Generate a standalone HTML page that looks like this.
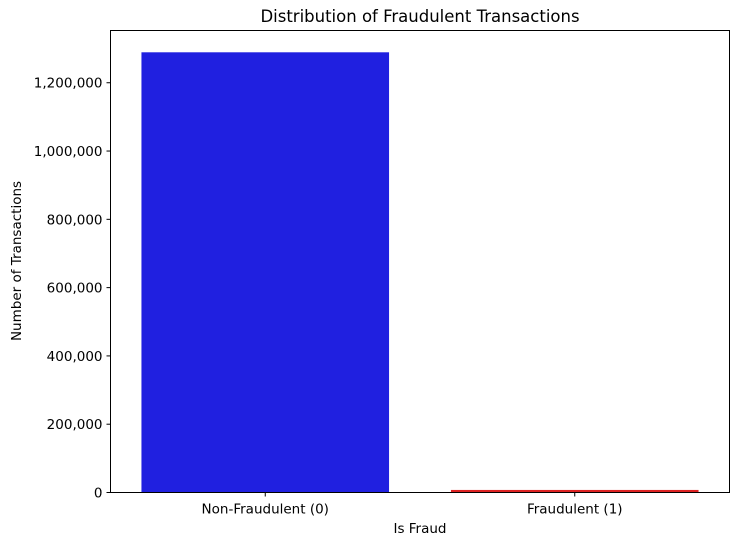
<!DOCTYPE html>
<html><head><meta charset="utf-8"><style>
body{margin:0;background:#fff;font-family:"DejaVu Sans","Liberation Sans",sans-serif}
svg text{font-family:"DejaVu Sans","Liberation Sans",sans-serif}
</style></head><body>
<svg width="740" height="545" xmlns="http://www.w3.org/2000/svg" id="chart">
<rect width="740" height="545" fill="#fff"/>
<text x="420" y="22" text-anchor="middle" font-size="16.5">Distribution of Fraudulent Transactions</text>
<text x="420" y="533" text-anchor="middle" font-size="13.5">Is Fraud</text>
<text transform="translate(21,261) rotate(-90)" text-anchor="middle" font-size="13.5">Number of Transactions</text>
<g id="marks"></g>
<rect x="110.5" y="30.5" width="619" height="462" fill="none" stroke="#000" stroke-width="1"/>
</svg>
<script>
const categories = ["Non-Fraudulent (0)", "Fraudulent (1)"];
const counts = [1289169, 7506];
const colors = ["#2020e0", "#dd2222"];
const yTicks = [0, 200000, 400000, 600000, 800000, 1000000, 1200000];
const yTickLabels = ["0", "200,000", "400,000", "600,000", "800,000", "1,000,000", "1,200,000"];

const L=110.5,R=729.5,T=30.5,B=492.5,yMax=1353000;
const NS="http://www.w3.org/2000/svg";
const g=document.getElementById('marks');
const y=v=>B-(v/yMax)*(B-T);
const band=(R-L)/categories.length;
const xc=i=>L+band*(i+0.5);
function mk(t,a){const e=document.createElementNS(NS,t);for(const k in a)e.setAttribute(k,a[k]);g.appendChild(e);return e;}
categories.forEach((c,i)=>{
  const w=band*0.8;
  const r=mk('rect',{x:xc(i)-w/2,y:y(counts[i]),width:w,height:B-y(counts[i]),fill:colors[i]});
  
  
  const tk=mk('line',{x1:xc(i),x2:xc(i),y1:B,y2:B+4,stroke:'#000'});
  
  
  const t=mk('text',{x:xc(i),y:B+21,'text-anchor':'middle','font-size':13.5});
  t.textContent=c;
  
  
});
yTicks.forEach((v,i)=>{
  const tk=mk('line',{x1:L-4,x2:L,y1:y(v),y2:y(v),stroke:'#000'});
  
  
  const t=mk('text',{x:L-8,y:y(v)+5,'text-anchor':'end','font-size':13.5});
  t.textContent=yTickLabels[i];
  
  
});
</script>
</body></html>
